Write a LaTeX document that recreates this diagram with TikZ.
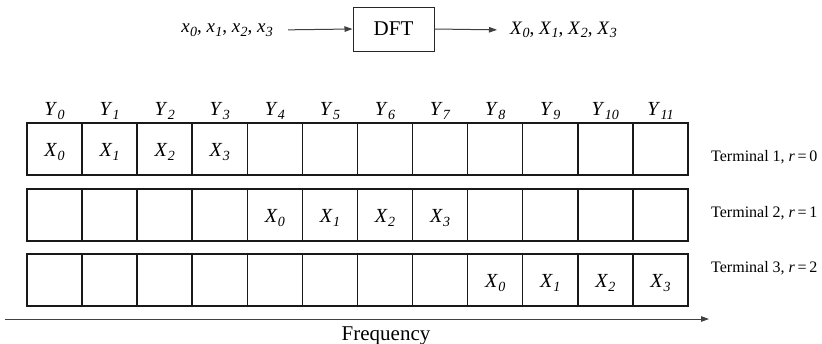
\documentclass[tikz,border=0pt]{standalone}
\usepackage{fontspec}
\setmainfont{Liberation Serif}
\usetikzlibrary{arrows.meta}
\newcommand\ix[2]{\textit{#1}\kern0.3pt\raisebox{-0.4ex}{\fontsize{14}{14}\selectfont\textit{#2}}}
\tikzset{
  cell/.style={draw=black!90, line width=1.5pt, minimum width=55.08pt, minimum height=52pt, inner sep=0pt},
  lab/.style={font=\fontsize{20}{20}\selectfont, inner sep=0pt, anchor=base},
  term/.style={font=\fontsize{16}{16}\selectfont, anchor=base west, inner sep=0pt},
  toptext/.style={font=\fontsize{19}{19}\selectfont, inner sep=3pt},
  dftbox/.style={draw=black!85, line width=1pt, minimum width=81pt, minimum height=44pt, inner sep=0pt, font=\fontsize{21}{21}\selectfont},
  arr/.style={draw=black!75, line width=1pt, -{Triangle[length=8pt,width=5.5pt]}}
}
\begin{document}
\begin{tikzpicture}[x=1pt,y=-1pt]
\useasboundingbox (0,0) rectangle (822,343);
% top DFT block
\node[dftbox] (dft) at (393.5,29) {DFT};
\node[toptext, anchor=east] (xin) at (276,30) {\ix{x}{0}, \ix{x}{1}, \ix{x}{2}, \ix{x}{3}};
\node[toptext, anchor=west] (xout) at (507,30) {\ix{X}{0}, \ix{X}{1}, \ix{X}{2}, \ix{X}{3}};
\draw[arr, shorten <=12pt] (xin.east) -- (dft.west);
\draw[arr, shorten >=10pt] (dft.east) -- (xout.west);
% grid
\foreach \r/\yc in {1/149,2/215,3/280}{
  \foreach \i in {0,...,11}{
    \node[cell] (c\r-\i) at ({27+55.08*(\i+0.5)},\yc) {};
  }
}
% Y labels
\foreach \i in {0,...,11}{
  \node[lab] (y\i) at ([yshift=6.5pt]c1-\i.north) {\ix{Y}{\i}};
}
% X labels
\foreach \k in {0,...,3}{
  \pgfmathtruncatemacro\ia{\k}
  \pgfmathtruncatemacro\ib{\k+4}
  \pgfmathtruncatemacro\ic{\k+8}
  \node[lab] (xa\k) at ([yshift=-7.5pt]c1-\ia.center) {\ix{X}{\k}};
  \node[lab] (xb\k) at ([yshift=-7.5pt]c2-\ib.center) {\ix{X}{\k}};
  \node[lab] (xc\k) at ([yshift=-7.5pt]c3-\ic.center) {\ix{X}{\k}};
}
% terminal labels
\node[term] (t1) at (711,161) {Terminal 1, \textit{r}\,=\,0};
\node[term] (t2) at (711,217) {Terminal 2, \textit{r}\,=\,1};
\node[term] (t3) at (711,272) {Terminal 3, \textit{r}\,=\,2};
% frequency axis
\coordinate (fs) at (5,319);
\coordinate (fe) at (709,319);
\draw[arr] (fs) -- (fe);
\node[font=\fontsize{21}{21}\selectfont, anchor=base west, inner sep=0pt] (freq) at (341.5,340) {Frequency};
\end{tikzpicture}
\end{document}
